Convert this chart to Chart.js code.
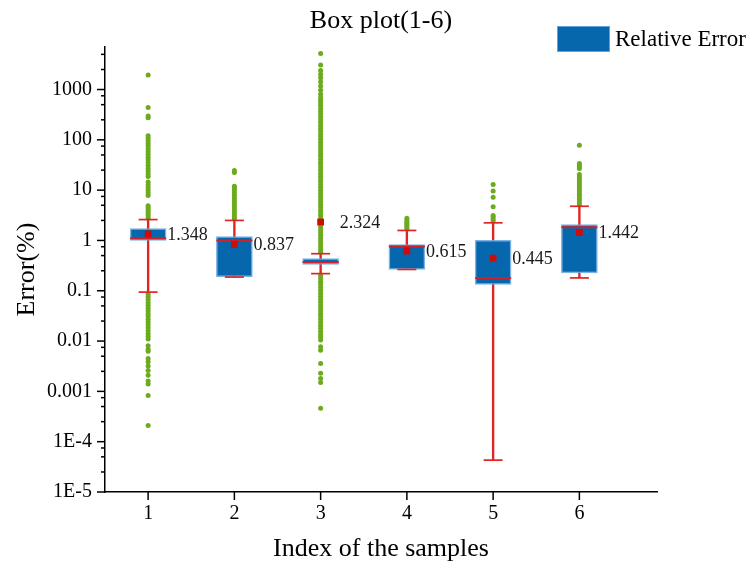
<!DOCTYPE html>
<html>
<head>
<meta charset="utf-8">
<title>Box plot(1-6)</title>
<script src="https://cdn.jsdelivr.net/npm/chart.js@4.4.0/dist/chart.umd.min.js"></script>
<style>
  body { margin: 0; background: #fff; }
  #wrap { width: 749px; height: 573px; }
</style>
</head>
<body>
<div id="wrap"><canvas id="boxPlot" width="749" height="573"></canvas></div>
<script>
// Sample indices along the x axis
const samples = [1, 2, 3, 4, 5, 6];

// Box statistics for each sample (Error %)
const q1 = [1.0, 0.19, 0.335, 0.265, 0.134, 0.225];
const q3 = [1.73, 1.2, 0.434, 0.83, 1.0, 2.07];
const medians = [1.1, 1.0, 0.375, 0.76, 0.179, 1.83];
const means = [1.348, 0.837, 2.324, 0.615, 0.445, 1.442];
const whiskerLow = [0.094, 0.187, 0.219, 0.265, 0.000043, 0.18];
const whiskerHigh = [2.6, 2.5, 0.545, 1.58, 2.24, 4.78];

// Points outside the whiskers
const outliers1 = [2.8, 3.1, 3.4, 3.7, 4.1, 4.5, 4.9, 7.8, 8.8, 10, 11.3, 12.8, 14.5, 18.7, 21, 24, 27, 31, 35, 40, 45,
  51, 58, 66, 75, 85, 96, 108, 120, 275, 298, 438, 1950,
  0.085, 0.075, 0.066, 0.058, 0.051, 0.045, 0.04, 0.035, 0.031, 0.027, 0.024, 0.021, 0.0185, 0.016, 0.014, 0.0125,
  0.011, 0.0081, 0.0069, 0.0063, 0.0045, 0.0039, 0.0032, 0.0026, 0.0021, 0.0016, 0.0014, 0.00083, 0.00021];
const outliers2 = [2.7, 3.0, 3.4, 3.8, 4.3, 4.8, 5.4, 6.1, 6.9, 7.8, 8.8, 10, 11.2, 12, 22.5, 24.5];
const outliers3 = [0.58, 0.66, 0.75, 0.85, 0.97, 1.1, 1.25, 1.42, 1.62, 1.85, 2.1, 2.4, 2.7, 3.1, 3.5, 4.0, 4.55, 5.2,
  5.9, 6.7, 7.6, 8.7, 9.9, 11.3, 12.8, 14.6, 16.6, 18.9, 21.5, 24.5, 28, 32, 36, 41, 47, 53, 60, 69, 78, 89, 101, 115,
  131, 149, 170, 193, 220, 250, 285, 325, 370, 420, 480, 545, 611, 688, 803, 964, 1173, 1427, 1713, 2000, 2400, 3055,
  5210,
  0.2, 0.175, 0.153, 0.134, 0.117, 0.102, 0.089, 0.078, 0.068, 0.06, 0.052, 0.046, 0.04, 0.035, 0.031, 0.027, 0.0235,
  0.0205, 0.018, 0.0155, 0.0135, 0.012, 0.0105, 0.0077, 0.0066, 0.0036, 0.0023, 0.0018, 0.0015, 0.00046];
const outliers4 = [1.7, 1.85, 2.0, 2.15, 2.3, 2.5, 2.75];
const outliers5 = [2.45, 2.7, 2.95, 3.15, 4.7, 7.2, 9.6, 12.9];
const outliers6 = [5.2, 5.8, 6.5, 7.3, 8.2, 9.2, 10.3, 11.5, 13, 14.5, 16.3, 18.3, 20.5, 27, 29.5, 32, 34, 78];
const outliers = [outliers1, outliers2, outliers3, outliers4, outliers5, outliers6];

// Axis ticks
const xTicks = [1, 2, 3, 4, 5, 6];
const yTickValues = [1e-5, 1e-4, 0.001, 0.01, 0.1, 1, 10, 100, 1000];
const yTickLabels = ['1E-5', '1E-4', '0.001', '0.01', '0.1', '1', '10', '100', '1000'];
const yMinorSteps = [2.5, 5, 7.5];
const yMin = 1e-5;
const yMax = 7000;

const serif = '"Liberation Serif", "Times New Roman", serif';
const boxBlue = '#0767AD';
const boxEdge = 'rgba(110,170,225,0.9)';
const red = '#E02424';
const green = '#6CAB1E';

// Tick marks, mean labels, title and legend
const decorations = {
  id: 'decorations',
  afterDraw(chart) {
    const { ctx, chartArea, scales: { x, y } } = chart;
    ctx.save();
    ctx.strokeStyle = '#000';
    ctx.lineWidth = 1.5;
    y.ticks.forEach(t => {
      const py = y.getPixelForValue(t.value);
      const len = t.major ? 8 : 4;
      ctx.beginPath();
      ctx.moveTo(chartArea.left, py);
      ctx.lineTo(chartArea.left - len, py);
      ctx.stroke();
    });
    x.ticks.forEach(t => {
      const px = x.getPixelForValue(t.value);
      ctx.beginPath();
      ctx.moveTo(px, chartArea.bottom);
      ctx.lineTo(px, chartArea.bottom + 8);
      ctx.stroke();
    });

    // mean values next to each box
    const meanMeta = chart.getDatasetMeta(5);
    ctx.fillStyle = '#1a1a1a';
    ctx.font = '18px ' + serif;
    ctx.textBaseline = 'middle';
    ctx.textAlign = 'left';
    meanMeta.data.forEach((pt, i) => {
      ctx.fillText(means[i].toFixed(3), pt.x + 19, pt.y + 1);
    });

    // title
    ctx.fillStyle = '#000';
    ctx.font = '26px ' + serif;
    ctx.textAlign = 'center';
    ctx.fillText('Box plot(1-6)', (chartArea.left + chartArea.right) / 2, 21);

    // legend
    const boxes = chart.data.datasets[2];
    ctx.fillStyle = boxes.backgroundColor;
    ctx.fillRect(557, 26, 53, 26);
    ctx.strokeStyle = boxes.borderColor;
    ctx.lineWidth = 1;
    ctx.strokeRect(557.5, 26.5, 52, 25);
    ctx.fillStyle = '#000';
    ctx.font = '23px ' + serif;
    ctx.textAlign = 'left';
    ctx.fillText(boxes.label, 615, 40);
    ctx.restore();
  }
};

const ctx = document.getElementById('boxPlot').getContext('2d');
const boxPlot = new Chart(ctx, {
  type: 'bar',
  data: {
    datasets: [
      {
        // whisker stems
        label: 'Whisker',
        data: samples.map((s, i) => ({ x: s, y: [whiskerLow[i], whiskerHigh[i]] })),
        backgroundColor: red,
        barThickness: 1.7,
        grouped: false,
        order: 6
      },
      {
        label: 'Outliers',
        type: 'scatter',
        data: outliers.flatMap((vals, i) => vals.map(v => ({ x: samples[i], y: v }))),
        backgroundColor: green,
        borderWidth: 0,
        pointRadius: 2.5,
        order: 5
      },
      {
        label: 'Relative Error',
        data: samples.map((s, i) => ({ x: s, y: [q1[i], q3[i]] })),
        backgroundColor: boxBlue,
        borderColor: boxEdge,
        borderWidth: 1.5,
        borderSkipped: false,
        barThickness: 36,
        grouped: false,
        order: 4
      },
      {
        label: 'Median',
        type: 'scatter',
        data: samples.map((s, i) => ({ x: s, y: medians[i] })),
        pointStyle: 'line',
        pointRadius: 18,
        borderColor: '#D0202A',
        borderWidth: 2,
        order: 3
      },
      {
        label: 'Whisker caps',
        type: 'scatter',
        data: samples.flatMap((s, i) => [{ x: s, y: whiskerLow[i] }, { x: s, y: whiskerHigh[i] }]),
        pointStyle: 'line',
        pointRadius: 9.5,
        borderColor: red,
        borderWidth: 1.7,
        order: 2
      },
      {
        label: 'Mean',
        type: 'scatter',
        data: samples.map((s, i) => ({ x: s, y: means[i] })),
        pointStyle: 'rect',
        pointRadius: 4.8,
        backgroundColor: '#D10A0A',
        borderWidth: 0,
        order: 1
      }
    ]
  },
  options: {
    responsive: false,
    animation: false,
    events: [],
    layout: { padding: { top: 47, right: 92, left: 0, bottom: 0 } },
    plugins: {
      legend: { display: false },
      tooltip: { enabled: false }
    },
    scales: {
      x: {
        type: 'linear',
        min: 0.5,
        max: 6.9,
        offset: false,
        afterBuildTicks: scale => { scale.ticks = xTicks.map(v => ({ value: v })); },
        afterFit: scale => { scale.height = 81; },
        grid: { display: false, drawTicks: false },
        border: { display: true, color: '#000', width: 1.5 },
        ticks: {
          autoSkip: false,
          maxRotation: 0,
          padding: 10,
          color: '#000',
          font: { family: serif, size: 20 }
        },
        title: {
          display: true,
          text: 'Index of the samples',
          color: '#000',
          font: { family: serif, size: 26 },
          padding: { bottom: 8 }
        }
      },
      y: {
        type: 'logarithmic',
        min: yMin,
        max: yMax,
        afterBuildTicks: scale => {
          const ticks = [];
          yTickValues.forEach(v => {
            ticks.push({ value: v, major: true });
            yMinorSteps.forEach(m => {
              if (v * m <= yMax) ticks.push({ value: v * m, major: false });
            });
          });
          scale.ticks = ticks;
        },
        afterFit: scale => { scale.width = 105; },
        grid: { display: false, drawTicks: false },
        border: { display: true, color: '#000', width: 1.5 },
        ticks: {
          autoSkip: false,
          padding: 13,
          color: '#000',
          font: { family: serif, size: 20 },
          callback: value => {
            const i = yTickValues.indexOf(value);
            return i >= 0 ? yTickLabels[i] : '';
          }
        },
        title: {
          display: true,
          text: 'Error(%)',
          color: '#000',
          font: { family: serif, size: 26 },
          padding: { top: 12 }
        }
      }
    }
  },
  plugins: [decorations]
});
</script>
</body>
</html>
